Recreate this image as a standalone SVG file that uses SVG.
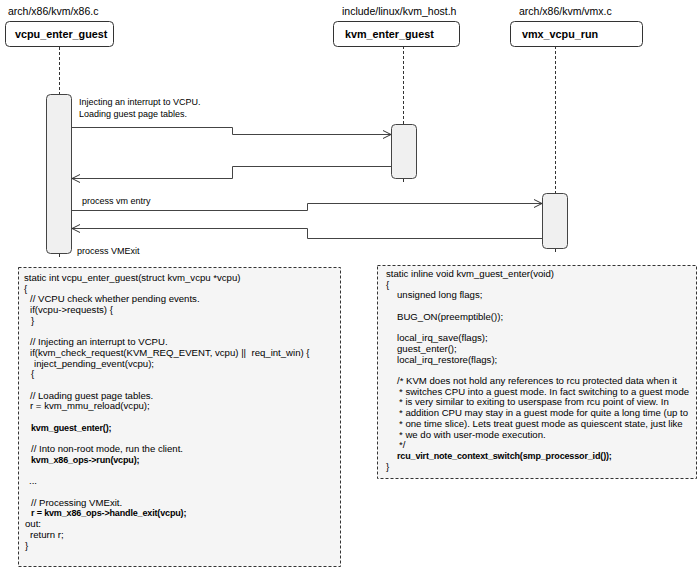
<svg xmlns="http://www.w3.org/2000/svg" width="700" height="569" viewBox="0 0 700 569">
<style>
text{font-family:"Liberation Sans",Arial,sans-serif;fill:#000}
.hdr{font-size:10.5px}
.nlab{font-size:10.8px;font-weight:bold}
.lab{font-size:9px}
.code{font-size:9.6px}
.b{font-weight:bold;font-size:9px;letter-spacing:-0.15px}
.node{fill:#fff;stroke:#333;stroke-width:1}
.act{fill:#f0f0f0;stroke:#444;stroke-width:1}
.life{stroke:#333;stroke-width:1;stroke-dasharray:3,2;fill:none}
.msg{fill:none;stroke:#444;stroke-width:1}
.note{fill:#f5f5f5;stroke:#333;stroke-width:1;stroke-dasharray:3,2}
</style>
<defs>
<marker id="open" viewBox="0 0 10 10" refX="9" refY="5" markerWidth="10" markerHeight="10" markerUnits="userSpaceOnUse" orient="auto">
<path d="M1,1 L9,5 L1,9" fill="none" stroke="#333" stroke-width="1"/>
</marker>
</defs>

<g id="lifelines">
<line class="life" x1="59.5" y1="47" x2="59.5" y2="94"/>
<line class="life" x1="59.5" y1="254" x2="59.5" y2="259"/>
<line class="life" x1="403.5" y1="46" x2="403.5" y2="124"/>
<line class="life" x1="403.5" y1="179" x2="403.5" y2="184"/>
<line class="life" x1="555.5" y1="46" x2="555.5" y2="193"/>
<line class="life" x1="555.5" y1="249" x2="555.5" y2="254"/>
</g>

<g id="vcpu_enter_guest">
<text class="hdr" x="8" y="15">arch/x86/kvm/x86.c</text>
<rect class="node" x="5.5" y="21.5" width="108" height="25" rx="4"/>
<text class="nlab" x="15" y="38">vcpu_enter_guest</text>
<rect class="act" x="46.5" y="94.5" width="25" height="159" rx="4"/>
</g>

<g id="kvm_enter_guest">
<text class="hdr" x="342" y="15">include/linux/kvm_host.h</text>
<rect class="node" x="333.5" y="21.5" width="126" height="25" rx="4"/>
<text class="nlab" x="345" y="38">kvm_enter_guest</text>
<rect class="act" x="391.5" y="124.5" width="25" height="54" rx="4"/>
</g>

<g id="vmx_vcpu_run">
<text class="hdr" x="519" y="15">arch/x86/kvm/vmx.c</text>
<rect class="node" x="510.5" y="21.5" width="132" height="25" rx="4"/>
<text class="nlab" x="522" y="38">vmx_vcpu_run</text>
<rect class="act" x="542.5" y="193.5" width="25" height="55" rx="4"/>
</g>

<g id="connectors">
<path class="msg" d="M72,127.5 H232.5 V134.5 H391" marker-end="url(#open)"/>
<path class="msg" d="M391,166.5 H232.5 V178.5 H72" marker-end="url(#open)"/>
<path class="msg" d="M72,210.5 H307.5 V203.5 H542" marker-end="url(#open)"/>
<path class="msg" d="M542,238.5 H307.5 V228.5 H72" marker-end="url(#open)"/>
<text class="lab" x="79" y="105">Injecting an interrupt to VCPU.</text>
<text class="lab" x="79" y="117">Loading guest page tables.</text>
<text class="lab" x="82" y="204">process vm entry</text>
<text class="lab" x="77" y="254">process VMExit</text>
</g>

<g id="note_vcpu_enter_guest">
<rect class="note" x="18.5" y="267.5" width="322" height="299"/>
<text class="code" x="24" y="281">static int vcpu_enter_guest(struct kvm_vcpu *vcpu)</text>
<text class="code" x="24" y="291.7">{</text>
<text class="code" x="30" y="302.4">// VCPU check whether pending events.</text>
<text class="code" x="30" y="313.1">if(vcpu-&gt;requests) {</text>
<text class="code" x="31" y="323.8">}</text>
<text class="code" x="30" y="345.2">// Injecting an interrupt to VCPU.</text>
<text class="code" x="30" y="355.9" xml:space="preserve">if(kvm_check_request(KVM_REQ_EVENT, vcpu) ||  req_int_win) {</text>
<text class="code" x="34" y="366.6">inject_pending_event(vcpu);</text>
<text class="code" x="31" y="377.3">{</text>
<text class="code" x="30" y="398.7">// Loading guest page tables.</text>
<text class="code" x="30" y="409.4">r = kvm_mmu_reload(vcpu);</text>
<text class="code b" x="31" y="430.8">kvm_guest_enter();</text>
<text class="code" x="31" y="452.2">// Into non-root mode, run the client.</text>
<text class="code b" x="31" y="462.9">kvm_x86_ops-&gt;run(vcpu);</text>
<text class="code" x="29" y="484.3">...</text>
<text class="code" x="31" y="505.7">// Processing VMExit.</text>
<text class="code b" x="31" y="516.4">r = kvm_x86_ops-&gt;handle_exit(vcpu);</text>
<text class="code" x="25" y="527.1">out:</text>
<text class="code" x="30" y="537.8">return r;</text>
<text class="code" x="25" y="548.5">}</text>
</g>

<g id="note_kvm_guest_enter">
<rect class="note" x="377.5" y="265.5" width="319" height="213"/>
<text class="code" x="386" y="277">static inline void kvm_guest_enter(void)</text>
<text class="code" x="386" y="287.7">{</text>
<text class="code" x="397" y="298.4">unsigned long flags;</text>
<text class="code" x="397" y="319.8">BUG_ON(preemptible());</text>
<text class="code" x="397" y="341.2">local_irq_save(flags);</text>
<text class="code" x="397" y="351.9">guest_enter();</text>
<text class="code" x="397" y="362.6">local_irq_restore(flags);</text>
<text class="code" x="397" y="384">/* KVM does not hold any references to rcu protected data when it</text>
<text class="code" x="399" y="394.7">* switches CPU into a guest mode. In fact switching to a guest mode</text>
<text class="code" x="399" y="405.4">* is very similar to exiting to userspase from rcu point of view. In</text>
<text class="code" x="399" y="416.1">* addition CPU may stay in a guest mode for quite a long time (up to</text>
<text class="code" x="399" y="426.8">* one time slice). Lets treat guest mode as quiescent state, just like</text>
<text class="code" x="399" y="437.5">* we do with user-mode execution.</text>
<text class="code" x="399" y="448.2">*/</text>
<text class="code b" x="397" y="458.9">rcu_virt_note_context_switch(smp_processor_id());</text>
<text class="code" x="386" y="469.6">}</text>
</g>
</svg>
